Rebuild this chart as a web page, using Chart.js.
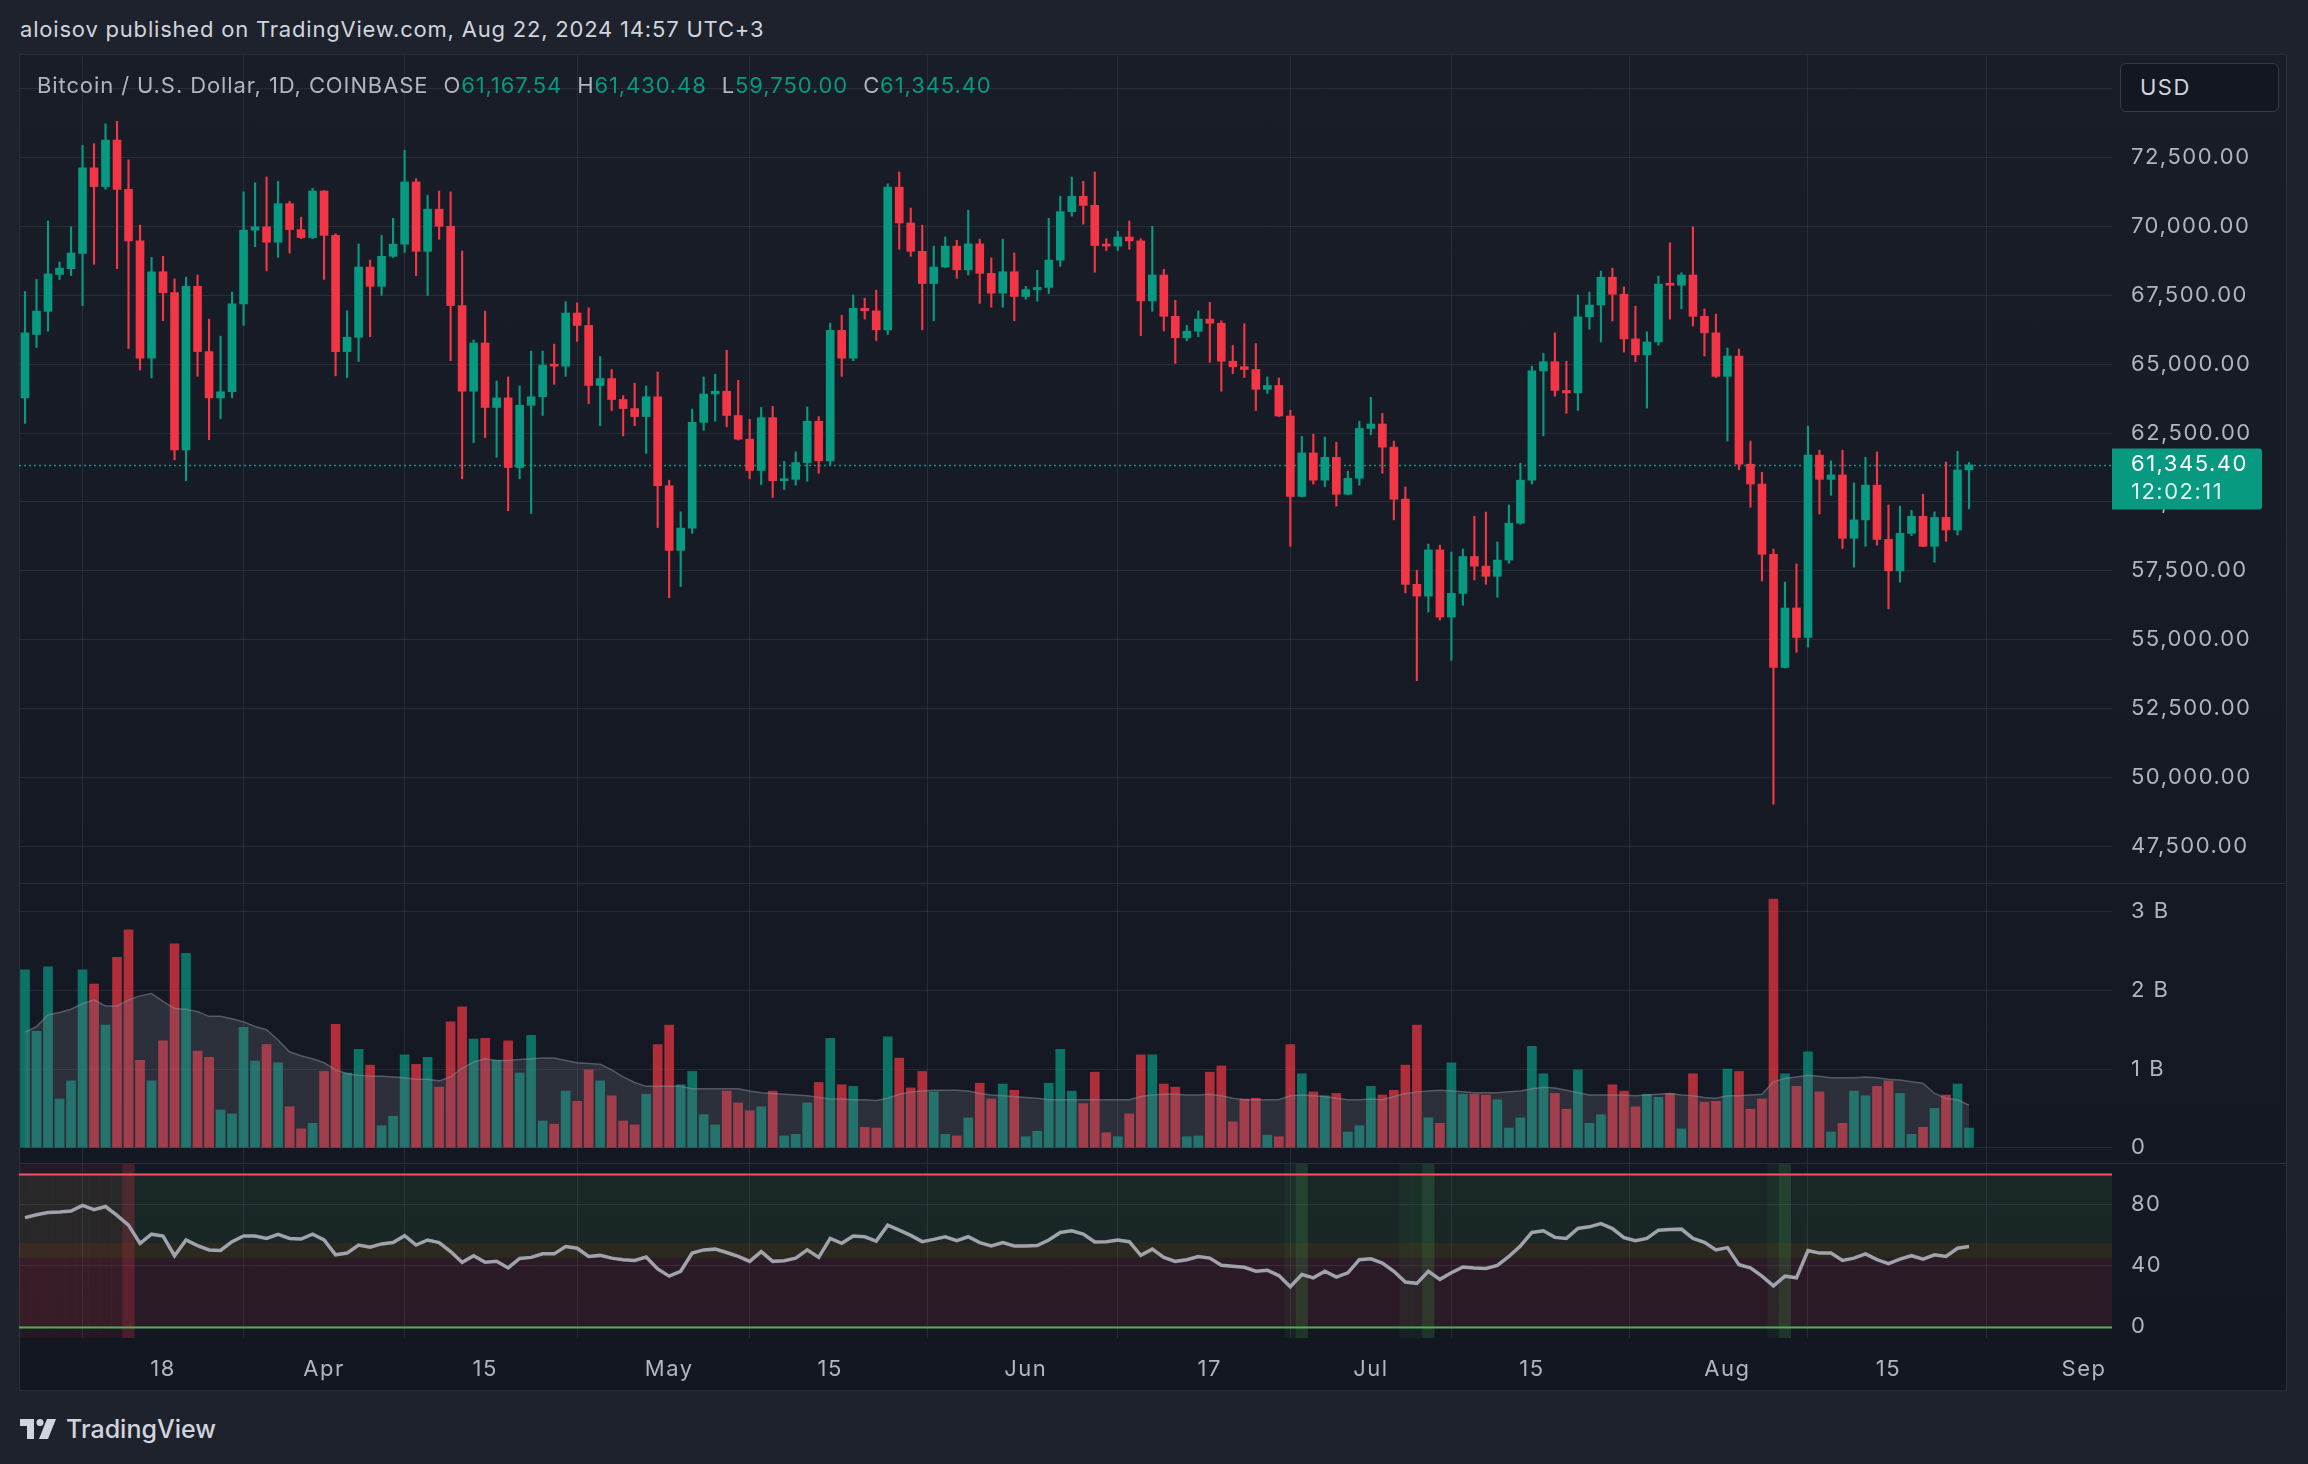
<!DOCTYPE html>
<html>
<head>
<meta charset="utf-8">
<title>BTCUSD 1D</title>
<script src="https://cdn.jsdelivr.net/npm/chart.js@4.4.1/dist/chart.umd.min.js"></script>
<style>
  html, body { margin: 0; padding: 0; }
  body {
    width: 2308px; height: 1464px; position: relative; overflow: hidden;
    background: #1e222d; font-family: Inter, "Noto Sans", sans-serif; color: #d1d4dc;
  }
  .abs { position: absolute; }
  #header { left: 20px; top: 16px; font-size: 22px; letter-spacing: 0.8px; }
  #frame { left: 19px; top: 54px; width: 2268px; height: 1337px; box-sizing: border-box;
           border: 1px solid #2a2e39; background: linear-gradient(#191d28, #131722); }
  .sep { left: 19px; width: 2268px; height: 1px; background: #2a2e39; }
  canvas { position: absolute; left: 19px; }
  #legend { left: 37px; top: 72px; font-size: 22px; letter-spacing: 0.9px; color: #b2b5be; white-space: nowrap; }
  #legend .v { color: #089981; }
  #legend .k { margin-left: 15px; }
  #usd { left: 2120px; top: 63px; width: 159px; height: 49px; box-sizing: border-box;
         border: 1px solid #363a45; border-radius: 6px; background: #131722;
         font-size: 22px; line-height: 47px; padding-left: 19px; letter-spacing: 1.5px; }
  #footer { left: 20px; top: 1414px; height: 30px; display: flex; align-items: center;
            font-size: 25px; font-weight: 500; gap: 10px; }
</style>
</head>
<body>
<div id="header" class="abs">aloisov published on TradingView.com, Aug 22, 2024 14:57 UTC+3</div>
<div id="frame" class="abs"></div>
<canvas id="priceChart" width="2267" height="828" style="top:55px"></canvas>
<div class="sep abs" style="top:883px"></div>
<canvas id="volumeChart" width="2267" height="279" style="top:884px"></canvas>
<div class="sep abs" style="top:1163px"></div>
<canvas id="rsiChart" width="2267" height="227" style="top:1164px"></canvas>
<div id="legend" class="abs"></div>
<div id="usd" class="abs">USD</div>
<div id="footer" class="abs">
  <svg width="36" height="20" viewBox="0 0 36 20"><path d="M0 0H14V20H7V7H0Z" fill="#d1d4dc"/><circle cx="20" cy="3.5" r="3.5" fill="#d1d4dc"/><path d="M27 0H36L28 20H19Z" fill="#d1d4dc"/></svg>
  <span>TradingView</span>
</div>
<script>
// daily candles, COINBASE BTC/USD
const dates = [
  '2024-03-06','2024-03-07','2024-03-08','2024-03-09','2024-03-10','2024-03-11','2024-03-12','2024-03-13','2024-03-14','2024-03-15',
  '2024-03-16','2024-03-17','2024-03-18','2024-03-19','2024-03-20','2024-03-21','2024-03-22','2024-03-23','2024-03-24','2024-03-25',
  '2024-03-26','2024-03-27','2024-03-28','2024-03-29','2024-03-30','2024-03-31','2024-04-01','2024-04-02','2024-04-03','2024-04-04',
  '2024-04-05','2024-04-06','2024-04-07','2024-04-08','2024-04-09','2024-04-10','2024-04-11','2024-04-12','2024-04-13','2024-04-14',
  '2024-04-15','2024-04-16','2024-04-17','2024-04-18','2024-04-19','2024-04-20','2024-04-21','2024-04-22','2024-04-23','2024-04-24',
  '2024-04-25','2024-04-26','2024-04-27','2024-04-28','2024-04-29','2024-04-30','2024-05-01','2024-05-02','2024-05-03','2024-05-04',
  '2024-05-05','2024-05-06','2024-05-07','2024-05-08','2024-05-09','2024-05-10','2024-05-11','2024-05-12','2024-05-13','2024-05-14',
  '2024-05-15','2024-05-16','2024-05-17','2024-05-18','2024-05-19','2024-05-20','2024-05-21','2024-05-22','2024-05-23','2024-05-24',
  '2024-05-25','2024-05-26','2024-05-27','2024-05-28','2024-05-29','2024-05-30','2024-05-31','2024-06-01','2024-06-02','2024-06-03',
  '2024-06-04','2024-06-05','2024-06-06','2024-06-07','2024-06-08','2024-06-09','2024-06-10','2024-06-11','2024-06-12','2024-06-13',
  '2024-06-14','2024-06-15','2024-06-16','2024-06-17','2024-06-18','2024-06-19','2024-06-20','2024-06-21','2024-06-22','2024-06-23',
  '2024-06-24','2024-06-25','2024-06-26','2024-06-27','2024-06-28','2024-06-29','2024-06-30','2024-07-01','2024-07-02','2024-07-03',
  '2024-07-04','2024-07-05','2024-07-06','2024-07-07','2024-07-08','2024-07-09','2024-07-10','2024-07-11','2024-07-12','2024-07-13',
  '2024-07-14','2024-07-15','2024-07-16','2024-07-17','2024-07-18','2024-07-19','2024-07-20','2024-07-21','2024-07-22','2024-07-23',
  '2024-07-24','2024-07-25','2024-07-26','2024-07-27','2024-07-28','2024-07-29','2024-07-30','2024-07-31','2024-08-01','2024-08-02',
  '2024-08-03','2024-08-04','2024-08-05','2024-08-06','2024-08-07','2024-08-08','2024-08-09','2024-08-10','2024-08-11','2024-08-12',
  '2024-08-13','2024-08-14','2024-08-15','2024-08-16','2024-08-17','2024-08-18','2024-08-19','2024-08-20','2024-08-21','2024-08-22'
];

const opens = [
  63780, 66080, 66920, 68260, 68470, 69020, 72130, 71450, 73140, 71350,
  69480, 65220, 68360, 67600, 61890, 67830, 65460, 63780, 64000, 67190,
  69870, 69990, 69430, 70830, 69890, 69600, 71290, 69680, 65460, 65980,
  68530, 67830, 68920, 69360, 71620, 69100, 70630, 70010, 67130, 64020,
  65770, 63430, 63780, 61250, 63510, 63820, 64970, 64930, 66860, 66410,
  64230, 64480, 63720, 63390, 63100, 63820, 60590, 58240, 59050, 62890,
  63920, 64020, 63140, 62280, 61140, 63060, 60770, 60820, 61430, 62930,
  61490, 66230, 65220, 67030, 66940, 66250, 71430, 70130, 69100, 67930,
  68530, 69290, 68430, 69370, 68300, 67580, 68360, 67460, 67710, 67790,
  68780, 70540, 71100, 70770, 69310, 69290, 69620, 69480, 67300, 68240,
  66740, 65960, 66200, 66640, 66490, 65110, 64910, 64810, 64090, 64230,
  63120, 60200, 61780, 60790, 61620, 60280, 60860, 62670, 62830, 61990,
  60100, 57010, 56580, 58260, 55820, 56680, 58020, 57670, 57300, 57890,
  59230, 60790, 64760, 65090, 64050, 63960, 66720, 67150, 68160, 67540,
  65920, 65340, 65810, 67910, 67870, 68240, 66740, 66140, 64560, 65300,
  61370, 60650, 58100, 53990, 56150, 55080, 61700, 60820, 60980, 58680,
  59350, 60610, 58640, 57500, 58860, 59480, 58390, 59440, 58980, 61167.54
];
const highs = [
  67640, 68080, 70200, 68710, 69990, 72950, 73010, 73730, 73820, 72420,
  70050, 68880, 68920, 68100, 68160, 68240, 66640, 66020, 67620, 71260,
  71590, 71800, 71640, 70920, 70340, 71390, 71310, 69740, 66940, 69370,
  68780, 69680, 70300, 72770, 71740, 71140, 71290, 71260, 69110, 65880,
  66930, 64390, 64540, 64210, 65480, 65480, 65730, 67270, 67230, 67050,
  65280, 64810, 63860, 64310, 64210, 64720, 60790, 59640, 63370, 64540,
  64640, 65510, 64420, 63000, 63430, 63470, 61470, 61820, 63450, 63100,
  66490, 66780, 67520, 67400, 67690, 71550, 71980, 70670, 70050, 69290,
  69620, 69500, 70590, 69540, 68860, 69540, 69040, 67830, 68410, 70300,
  71100, 71800, 71640, 71980, 69560, 69830, 70200, 69560, 70010, 68450,
  67320, 66410, 66940, 67250, 66580, 65690, 66470, 65750, 64540, 64500,
  63330, 62380, 62460, 62360, 62170, 61120, 62930, 63800, 63220, 62210,
  60540, 57520, 58470, 58430, 58180, 58290, 59480, 59630, 58550, 59890,
  61410, 64930, 65400, 66140, 65110, 67520, 67620, 68380, 68490, 67810,
  67110, 66180, 68200, 69410, 68320, 69990, 67010, 66820, 65590, 65550,
  62210, 61080, 58290, 57090, 57750, 62750, 61880, 61490, 61880, 60690,
  61620, 61820, 59890, 59850, 59700, 60280, 59640, 61450, 61840, 61430.48
];
const lows = [
  62850, 65610, 66200, 68080, 68220, 67130, 68630, 71350, 68470, 65570,
  64790, 64500, 66580, 61530, 60770, 64560, 62260, 63020, 63780, 66410,
  69270, 68390, 68880, 69040, 69560, 69560, 68080, 64580, 64520, 65100,
  66000, 67500, 68880, 69060, 68220, 67500, 69540, 65130, 60840, 62150,
  62340, 61620, 59680, 60840, 59580, 63140, 64270, 64560, 65830, 63570,
  62770, 63320, 62400, 62770, 61760, 59070, 56520, 56930, 58860, 62600,
  62930, 62730, 62250, 60840, 60630, 60160, 60450, 60610, 60750, 61040,
  61330, 64560, 65130, 66640, 65860, 66080, 69170, 68920, 66250, 66580,
  68510, 68120, 68240, 67210, 67070, 67070, 66580, 67360, 67290, 67560,
  68550, 70380, 70090, 68340, 69130, 69130, 69170, 66040, 66920, 66210,
  65030, 65850, 66000, 65070, 64020, 64660, 64520, 63320, 63940, 63100,
  58390, 60180, 60650, 60550, 59850, 60260, 60610, 62440, 61040, 59350,
  56700, 53510, 56000, 55710, 54250, 56250, 57170, 57010, 56540, 57770,
  59190, 60650, 62400, 63840, 63220, 63320, 66270, 65810, 66570, 65440,
  65090, 63410, 65690, 66640, 67010, 66390, 65300, 64520, 62210, 61170,
  59810, 57130, 49030, 53970, 54540, 54730, 59560, 60240, 58310, 57630,
  58390, 58430, 56120, 57090, 58780, 58370, 57810, 58570, 58800, 59750.00
];
const closes = [
  66140, 66930, 68280, 68490, 69040, 72130, 71450, 73140, 71350, 69480,
  65220, 68360, 67600, 61890, 67830, 65460, 63780, 64000, 67190, 69870,
  69990, 69430, 70830, 69890, 69600, 71290, 69680, 65460, 65980, 68530,
  67830, 68920, 69360, 71620, 69100, 70630, 70010, 67130, 64020, 65770,
  63430, 63780, 61250, 63510, 63820, 64970, 64930, 66860, 66410, 64230,
  64480, 63720, 63390, 63100, 63820, 60590, 58240, 59050, 62890, 63920,
  64020, 63140, 62280, 61140, 63060, 60770, 60820, 61430, 62930, 61490,
  66230, 65220, 67030, 66940, 66250, 71430, 70130, 69100, 67930, 68530,
  69290, 68430, 69370, 68300, 67580, 68360, 67460, 67710, 67790, 68780,
  70540, 71100, 70770, 69310, 69290, 69620, 69480, 67300, 68240, 66740,
  65960, 66200, 66640, 66490, 65110, 64910, 64810, 64090, 64230, 63120,
  60200, 61780, 60790, 61620, 60280, 60860, 62670, 62830, 61990, 60100,
  57010, 56580, 58260, 55820, 56680, 58020, 57670, 57300, 57890, 59230,
  60790, 64760, 65090, 64050, 63960, 66720, 67150, 68160, 67540, 65920,
  65340, 65810, 67910, 67870, 68240, 66740, 66140, 64560, 65300, 61370,
  60650, 58100, 53990, 56150, 55080, 61700, 60820, 60980, 58680, 59350,
  60610, 58640, 57500, 58860, 59480, 58390, 59440, 58980, 61160, 61345.40
];

// volume in billions
const volumes = [
  2.26, 1.48, 2.30, 0.62, 0.85, 2.26, 2.08, 1.56, 2.42, 2.77,
  1.11, 0.85, 1.36, 2.59, 2.47, 1.23, 1.15, 0.48, 0.43, 1.53,
  1.10, 1.31, 1.08, 0.52, 0.24, 0.31, 0.97, 1.57, 0.95, 1.25,
  1.05, 0.28, 0.40, 1.18, 1.06, 1.15, 0.77, 1.60, 1.79, 1.38,
  1.39, 1.11, 1.36, 0.95, 1.43, 0.34, 0.30, 0.72, 0.59, 0.99,
  0.85, 0.66, 0.34, 0.29, 0.68, 1.31, 1.56, 0.80, 0.97, 0.42,
  0.29, 0.72, 0.57, 0.47, 0.52, 0.72, 0.15, 0.17, 0.57, 0.83,
  1.39, 0.80, 0.78, 0.26, 0.25, 1.41, 1.14, 0.76, 0.97, 0.71,
  0.17, 0.15, 0.38, 0.82, 0.62, 0.81, 0.73, 0.14, 0.21, 0.82,
  1.25, 0.72, 0.56, 0.96, 0.19, 0.14, 0.43, 1.18, 1.18, 0.81,
  0.77, 0.14, 0.15, 0.96, 1.04, 0.33, 0.62, 0.63, 0.16, 0.14,
  1.31, 0.94, 0.71, 0.66, 0.69, 0.20, 0.28, 0.78, 0.67, 0.73,
  1.05, 1.56, 0.38, 0.31, 1.08, 0.68, 0.68, 0.67, 0.61, 0.25,
  0.38, 1.29, 0.94, 0.69, 0.49, 0.99, 0.31, 0.42, 0.80, 0.72,
  0.52, 0.68, 0.64, 0.69, 0.24, 0.94, 0.58, 0.59, 1.00, 0.97,
  0.49, 0.62, 3.16, 0.94, 0.78, 1.22, 0.71, 0.20, 0.31, 0.72,
  0.66, 0.78, 0.85, 0.69, 0.17, 0.26, 0.50, 0.67, 0.81, 0.25
];
const volumeMA = [
  1.47, 1.54, 1.69, 1.72, 1.76, 1.83, 1.88, 1.80, 1.80, 1.88,
  1.93, 1.96, 1.86, 1.77, 1.76, 1.73, 1.67, 1.67, 1.64, 1.60,
  1.54, 1.50, 1.37, 1.22, 1.17, 1.13, 1.08, 0.99, 0.94, 0.92,
  0.91, 0.91, 0.90, 0.89, 0.87, 0.87, 0.85, 0.90, 1.01, 1.09,
  1.13, 1.11, 1.11, 1.12, 1.13, 1.14, 1.14, 1.11, 1.08, 1.07,
  1.06, 0.99, 0.90, 0.83, 0.78, 0.78, 0.78, 0.78, 0.75, 0.75,
  0.75, 0.75, 0.75, 0.72, 0.70, 0.69, 0.68, 0.67, 0.66, 0.64,
  0.62, 0.62, 0.61, 0.61, 0.60, 0.63, 0.68, 0.71, 0.72, 0.73,
  0.73, 0.73, 0.72, 0.69, 0.67, 0.66, 0.65, 0.64, 0.63, 0.61,
  0.61, 0.61, 0.61, 0.61, 0.61, 0.61, 0.61, 0.65, 0.67, 0.68,
  0.68, 0.67, 0.67, 0.68, 0.66, 0.63, 0.61, 0.61, 0.61, 0.61,
  0.66, 0.67, 0.66, 0.65, 0.63, 0.61, 0.61, 0.62, 0.61, 0.65,
  0.69, 0.71, 0.72, 0.73, 0.72, 0.71, 0.70, 0.70, 0.70, 0.71,
  0.72, 0.75, 0.77, 0.76, 0.73, 0.70, 0.67, 0.67, 0.67, 0.67,
  0.66, 0.67, 0.68, 0.69, 0.67, 0.66, 0.64, 0.63, 0.66, 0.66,
  0.67, 0.68, 0.84, 0.88, 0.90, 0.92, 0.91, 0.89, 0.89, 0.89,
  0.90, 0.89, 0.87, 0.86, 0.84, 0.82, 0.69, 0.63, 0.61, 0.54
];

const rsi = [
  71.4, 73.3, 74.8, 75.1, 75.7, 79.4, 76.6, 78.7, 72.9, 66.5,
  54.6, 60.6, 59.4, 46.5, 56.8, 53.1, 50.3, 49.9, 55.7, 59.4,
  59.4, 57.8, 60.4, 57.8, 57.4, 60.6, 56.8, 47.1, 48.2, 53.5,
  52.0, 54.2, 55.1, 59.6, 53.5, 56.8, 55.1, 49.2, 42.2, 46.5,
  42.2, 42.8, 38.5, 44.7, 45.4, 47.7, 47.7, 52.5, 51.4, 46.0,
  46.7, 44.9, 43.9, 43.4, 45.6, 37.8, 33.1, 36.3, 48.2, 50.3,
  50.8, 48.6, 46.0, 42.8, 49.2, 42.8, 43.2, 44.9, 50.3, 45.4,
  57.8, 54.6, 59.4, 58.9, 56.1, 66.5, 63.2, 59.8, 55.7, 57.2,
  58.9, 56.3, 58.9, 55.1, 52.9, 55.1, 52.9, 52.9, 53.1, 56.8,
  61.7, 62.8, 60.6, 55.5, 55.7, 56.8, 55.7, 46.7, 50.8, 45.4,
  42.8, 43.9, 46.0, 44.9, 40.2, 39.6, 38.9, 36.3, 37.0, 33.5,
  26.2, 34.2, 32.0, 36.3, 32.5, 35.3, 43.9, 44.5, 41.7, 36.3,
  29.2, 28.4, 36.3, 31.0, 35.3, 39.1, 38.5, 38.1, 40.2, 46.0,
  52.9, 61.7, 62.8, 58.5, 57.8, 64.3, 65.4, 67.5, 64.3, 58.3,
  56.3, 57.8, 63.2, 63.7, 63.9, 57.8, 55.3, 50.3, 51.8, 40.6,
  38.5, 33.1, 26.7, 33.1, 32.0, 49.9, 48.2, 48.2, 43.4, 44.9,
  47.7, 43.9, 41.3, 44.3, 46.5, 44.3, 47.1, 46.0, 51.4, 52.5
];
const rsiBands = [45, 55];          // lower / upper edge of the neutral band
const rsiLimits = [30, 70];         // oversold / overbought

const priceTicks = [47500, 50000, 52500, 55000, 57500, 60000, 62500, 65000, 67500, 70000, 72500, 75000];
const volumeTicks = [0, 1, 2, 3];
const rsiTicks = [0, 40, 80];
const tickDates = ['2024-03-18','2024-04-01','2024-04-15','2024-05-01','2024-05-15','2024-06-01',
                   '2024-06-17','2024-07-01','2024-07-15','2024-08-01','2024-08-15','2024-09-01'];
const tickLabels = ['18','Apr','15','May','15','Jun','17','Jul','15','Aug','15','Sep'];
const countdown = '12:02:11';

// --- helpers
const t0 = Date.parse(dates[0]);
const dayOf = s => Math.round((Date.parse(s) - t0) / 86400000);
const days = dates.map(dayOf);
const tickDays = tickDates.map(dayOf);

const up = '#089981', down = '#f23645';
const textColor = '#b2b5be';
const gridColor = 'rgba(58,62,74,0.5)';
const axisFont = { family: 'Inter, sans-serif', size: 22 };
const isUp = closes.map((c, i) => c >= opens[i]);
const fmt = v => v.toLocaleString('en-US', { minimumFractionDigits: 2, maximumFractionDigits: 2 });
const fixedTicks = list => s => { s.ticks = list.map(v => ({ value: v })); };

// legend row
const last = closes.length - 1;
document.getElementById('legend').innerHTML =
  'Bitcoin / U.S. Dollar, 1D, COINBASE' +
  '<span class="k">O</span><span class="v">' + fmt(opens[last]) + '</span>' +
  '<span class="k">H</span><span class="v">' + fmt(highs[last]) + '</span>' +
  '<span class="k">L</span><span class="v">' + fmt(lows[last]) + '</span>' +
  '<span class="k">C</span><span class="v">' + fmt(closes[last]) + '</span>';

// wider tracking on canvas text, like the axis labels of the original
const spacingPlugin = {
  id: 'spacing',
  beforeDraw(chart) { chart.ctx.letterSpacing = '1.5px'; }
};

const xAxis = (showLabels) => ({
  type: 'linear', min: -0.5216, max: 181.43, offset: false,
  grid: { color: gridColor, drawTicks: false },
  border: { display: false },
  ticks: {
    display: showLabels, autoSkip: false, maxRotation: 0, color: textColor, font: axisFont, padding: 18,
    callback: (v, i) => tickLabels[i]
  },
  afterBuildTicks: fixedTicks(tickDays),
  afterFit: s => {
    s.height = showLabels ? 53 : 0;
    s.paddingLeft = 0; s.paddingRight = 0;
  }
});

const yAxis = (extra) => Object.assign({
  position: 'right',
  grid: { color: gridColor, drawTicks: false },
  border: { display: false },
  afterFit: s => { s.width = 174; s.paddingTop = 0; s.paddingBottom = 0; }
}, extra);

const baseOptions = (scales) => ({
  responsive: false, animation: false, events: [],
  layout: { padding: 0, autoPadding: false },
  plugins: { legend: { display: false }, tooltip: { enabled: false } },
  scales
});

// dotted last-price line + price tag on the axis
const lastPricePlugin = {
  id: 'lastPrice',
  beforeDatasetsDraw(chart) {
    const { ctx, chartArea, scales: { y } } = chart;
    const py = Math.round(y.getPixelForValue(closes[last])) + 0.5;
    ctx.save();
    ctx.strokeStyle = up; ctx.lineWidth = 1.3; ctx.setLineDash([2, 3]);
    ctx.beginPath(); ctx.moveTo(chartArea.left, py); ctx.lineTo(chartArea.right, py); ctx.stroke();
    ctx.restore();
  },
  afterDraw(chart) {
    const { ctx, chartArea, scales: { y } } = chart;
    const py = y.getPixelForValue(closes[last]);
    const x0 = chartArea.right;
    ctx.save();
    ctx.fillStyle = up;
    ctx.beginPath(); ctx.roundRect(x0, py - 16.5, 150, 61, [0, 3, 3, 0]); ctx.fill();
    ctx.font = '22px Inter, sans-serif';
    ctx.textBaseline = 'middle';
    ctx.fillStyle = '#ffffff';
    ctx.fillText(fmt(closes[last]), x0 + 19, py - 1);
    ctx.fillStyle = 'rgba(255,255,255,0.85)';
    ctx.fillText(countdown, x0 + 19, py + 27);
    ctx.restore();
  }
};

// price pane
new Chart(document.getElementById('priceChart'), {
  type: 'bar',
  data: {
    datasets: [
      {
        label: 'Body',
        data: days.map((d, i) => ({ x: d, y: [opens[i], closes[i]] })),
        backgroundColor: isUp.map(u => u ? up : down),
        barThickness: 8, minBarLength: 2, grouped: false, order: 0
      },
      {
        label: 'Wick',
        data: days.map((d, i) => ({ x: d, y: [lows[i], highs[i]] })),
        backgroundColor: isUp.map(u => u ? up : down),
        barThickness: 1.5, grouped: false, order: 1
      }
    ]
  },
  options: baseOptions({
    x: xAxis(false),
    y: yAxis({
      min: 46164, max: 76229,
      afterBuildTicks: fixedTicks(priceTicks),
      ticks: { padding: 19, color: textColor, font: axisFont, callback: v => fmt(v) }
    })
  }),
  plugins: [spacingPlugin, lastPricePlugin]
});

// volume pane
new Chart(document.getElementById('volumeChart'), {
  type: 'bar',
  data: {
    datasets: [
      {
        type: 'line', label: 'Volume MA',
        data: days.map((d, i) => ({ x: d, y: volumeMA[i] })),
        fill: 'origin', backgroundColor: 'rgba(120,123,134,0.24)',
        borderColor: 'rgba(140,143,154,0.5)', borderWidth: 1.5, pointRadius: 0, order: 0
      },
      {
        label: 'Volume',
        data: days.map((d, i) => ({ x: d, y: volumes[i] })),
        backgroundColor: isUp.map(u => u ? 'rgba(8,153,129,0.7)' : 'rgba(242,54,69,0.7)'),
        barThickness: 9, grouped: false, order: 1
      }
    ]
  },
  options: baseOptions({
    x: xAxis(false),
    y: yAxis({
      min: -0.194, max: 3.352,
      afterBuildTicks: fixedTicks(volumeTicks),
      ticks: { padding: 19, color: textColor, font: axisFont,
               callback: v => v === 0 ? '0' : v + ' B' }
    })
  }),
  plugins: [spacingPlugin]
});

// RSI pane background bands and limit lines
const rsiBandPlugin = {
  id: 'rsiBands',
  beforeDatasetsDraw(chart) {
    const { ctx, chartArea: a, scales: { y } } = chart;
    const band = (lo, hi, color) => {
      const top = y.getPixelForValue(hi), bot = y.getPixelForValue(lo);
      ctx.fillStyle = color; ctx.fillRect(a.left, top, a.right - a.left, bot - top);
    };
    ctx.save();
    band(rsiBands[1], 100, 'rgba(76,175,80,0.1)');
    band(rsiBands[0], rsiBands[1], 'rgba(255,193,7,0.1)');
    band(0, rsiBands[0], 'rgba(242,54,69,0.1)');
    ctx.restore();
  },
  afterDatasetsDraw(chart) {
    const { ctx, chartArea: a, scales: { y } } = chart;
    const hline = (v, color) => {
      const py = Math.round(y.getPixelForValue(v)) + 0.5;
      ctx.strokeStyle = color; ctx.lineWidth = 2;
      ctx.beginPath(); ctx.moveTo(a.left, py); ctx.lineTo(a.right, py); ctx.stroke();
    };
    ctx.save();
    hline(100, '#f7525f');
    hline(0, '#4caf50');
    ctx.restore();
  }
};

const rsiMin = -7.4, rsiMax = 106.55;
const zone = rsi.map((v, i) => {
  if (v > rsiLimits[1]) return 'rgba(242,54,69,0.07)';
  if (v < rsiLimits[0]) return 'rgba(76,175,80,0.07)';
  if (i > 0 && rsi[i - 1] > rsiLimits[1]) return 'rgba(242,54,69,0.24)';
  if (i > 0 && rsi[i - 1] < rsiLimits[0]) return 'rgba(76,175,80,0.2)';
  return null;
});
const marked = days.map((d, i) => i).filter(i => zone[i]);

new Chart(document.getElementById('rsiChart'), {
  type: 'bar',
  data: {
    datasets: [
      {
        type: 'line', label: 'RSI',
        data: days.map((d, i) => ({ x: d, y: rsi[i] })),
        borderColor: '#a0a3ac', borderWidth: 3.5, pointRadius: 0, order: 0
      },
      {
        label: 'Extremes',
        data: marked.map(i => ({ x: days[i], y: [rsiMin, rsiMax] })),
        backgroundColor: marked.map(i => zone[i]),
        barPercentage: 1, categoryPercentage: 1, grouped: false, order: 1
      }
    ]
  },
  options: baseOptions({
    x: xAxis(true),
    y: yAxis({
      min: rsiMin, max: rsiMax,
      afterBuildTicks: fixedTicks(rsiTicks),
      ticks: { padding: 19, color: textColor, font: axisFont }
    })
  }),
  plugins: [spacingPlugin, rsiBandPlugin]
});
</script>
</body>
</html>
